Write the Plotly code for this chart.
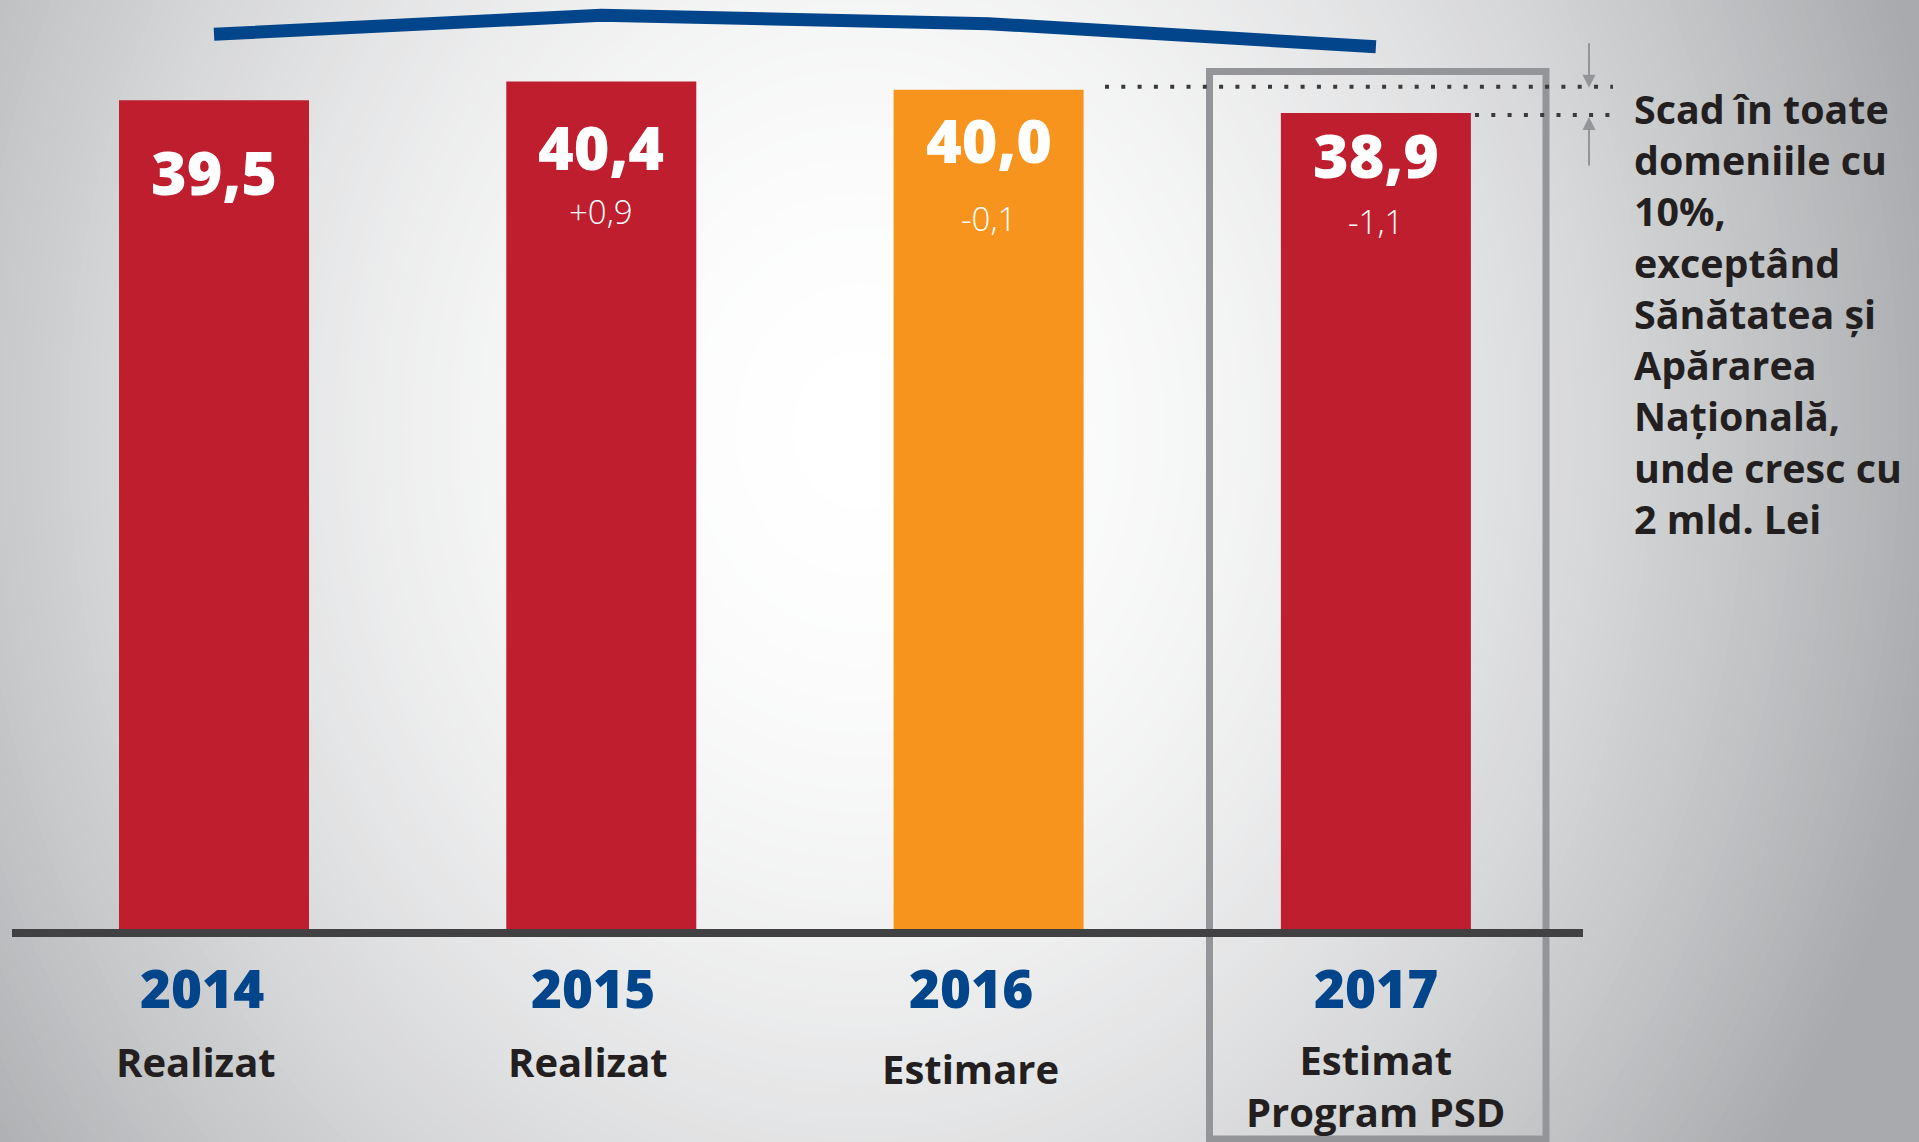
import plotly.graph_objects as go

# ---- data ----
years = ["2014", "2015", "2016", "2017"]
status = ["Realizat", "Realizat", "Estimare", "Estimat<br>Program PSD"]
values = [39.5, 40.4, 40.0, 38.9]
value_labels = ["39,5", "40,4", "40,0", "38,9"]
change_labels = ["", "+0,9", "-0,1", "-1,1"]
note_text = ("Scad în toate<br>domeniile cu<br>10%,<br>exceptând<br>"
             "Sănătatea și<br>Apărarea<br>Națională,<br>unde cresc cu<br>2 mld. Lei")

# ---- styling ----
RED = "#BE1E2D"
ORANGE = "#F7941D"
BLUE = "#02458B"
DARK = "#231F20"
GREY = "#939598"
bar_colors = [RED, RED, ORANGE, RED]

W, H = 1919, 1142
PLOT_L, PLOT_R = 12, 1583
PLOT_T, PLOT_B = 0, 933
ZERO_PX = 929
PX_PER_UNIT = 20.98
FIRST_CENTER = 214
STEP = 387.3
LINE_LIFT = 3.15  # trend line drawn above the bars


def px_x(p):
    return (p - PLOT_L) / (PLOT_R - PLOT_L)


def px_y(p):
    return (PLOT_B - p) / (PLOT_B - PLOT_T)


y_range = [-(PLOT_B - ZERO_PX) / PX_PER_UNIT, (ZERO_PX - PLOT_T) / PX_PER_UNIT]
x_range = [(PLOT_L - FIRST_CENTER) / STEP, (PLOT_R - FIRST_CENTER) / STEP]
idx = list(range(len(years)))

main_off = [71, 65, 50, 42]
sub_off = [0, 130, 129, 109]
year_dx = [-12, -8, -18, 0]
desc_dx = [-18, -13, -18, 0]
desc_y = [1061, 1061, 1068, 1085]

fig = go.Figure()

fig.add_trace(go.Bar(
    x=idx, y=values, width=190 / STEP,
    marker=dict(color=bar_colors, line=dict(width=0)),
    hovertext=years, hoverinfo="text+y",
))

fig.add_trace(go.Scatter(
    x=idx, y=values, yaxis="y2", mode="lines",
    line=dict(color=BLUE, width=13),
    hoverinfo="skip",
))

# ---- background radial gradient ----
shapes = []
cx, cy, rx, ry = 860, 430, 1100, 1300
edge = (168, 170, 173)
N = 150
for k in range(N):
    rho = 1.3 * (1 - k / N)
    f = min(1.0, rho ** 1.9)
    col = "rgb(%d,%d,%d)" % tuple(round(255 - f * (255 - e)) for e in edge)
    shapes.append(dict(
        type="circle", xref="paper", yref="paper", layer="below",
        x0=px_x(cx - rho * rx), x1=px_x(cx + rho * rx),
        y0=px_y(cy + rho * ry), y1=px_y(cy - rho * ry),
        fillcolor=col, line=dict(width=0),
    ))

# grey frame around 2017
shapes.append(dict(
    type="rect", xref="paper", yref="paper", layer="below",
    x0=px_x(1209.5), x1=px_x(1546), y0=px_y(1139), y1=px_y(71.5),
    line=dict(color=GREY, width=7), fillcolor="rgba(0,0,0,0)",
))

# baseline
shapes.append(dict(
    type="line", xref="paper", yref="paper", layer="above",
    x0=0, x1=1, y0=px_y(933), y1=px_y(933),
    line=dict(color="#414042", width=8),
))

# dotted reference lines
shapes.append(dict(
    type="line", xref="paper", yref="y", layer="above",
    x0=px_x(1105), x1=px_x(1613), y0=values[2] + 0.15, y1=values[2] + 0.15,
    line=dict(color="#3A3A3C", width=4, dash="4px,12.3px"),
))
shapes.append(dict(
    type="line", xref="paper", yref="y", layer="above",
    x0=px_x(1475), x1=px_x(1613), y0=values[3] - 0.1, y1=values[3] - 0.1,
    line=dict(color="#3A3A3C", width=4, dash="4px,12.3px"),
))

annotations = []
for i in idx:
    annotations.append(dict(
        x=i, y=values[i], xref="x", yref="y", text=value_labels[i],
        showarrow=False, yanchor="middle", yshift=-main_off[i],
        font=dict(family="Open Sans", size=61, color="white", weight=800),
    ))
    if change_labels[i]:
        annotations.append(dict(
            x=i, y=values[i], xref="x", yref="y", text=change_labels[i],
            showarrow=False, yanchor="middle", yshift=-sub_off[i],
            font=dict(family="Open Sans", size=33, color="white", weight=300),
        ))
    annotations.append(dict(
        x=i, y=px_y(988), xref="x", yref="paper", text=years[i],
        showarrow=False, yanchor="middle", xshift=year_dx[i],
        font=dict(family="Open Sans", size=53, color=BLUE, weight=800),
    ))
    annotations.append(dict(
        x=i, y=px_y(desc_y[i]), xref="x", yref="paper", text=status[i],
        showarrow=False, yanchor="middle", xshift=desc_dx[i],
        font=dict(family="Open Sans", size=40, color=DARK, weight=700),
    ))

annotations.append(dict(
    x=px_x(1632), y=px_y(80), xref="paper", yref="paper", text=note_text,
    showarrow=False, xanchor="left", yanchor="top", align="left",
    font=dict(family="Open Sans", size=39.4, color=DARK, weight=700),
))

# arrows pointing at the dotted lines
annotations.append(dict(
    x=px_x(1589), y=values[2] + 0.1, xref="paper", yref="y", text="",
    showarrow=True, ax=0, ay=-46, arrowhead=2, arrowsize=1.3,
    arrowwidth=2, arrowcolor=GREY, standoff=0,
))
annotations.append(dict(
    x=px_x(1589), y=values[3] - 0.2, xref="paper", yref="y", text="",
    showarrow=True, ax=0, ay=50, arrowhead=2, arrowsize=1.3,
    arrowwidth=2, arrowcolor=GREY, standoff=0,
))

fig.update_layout(
    width=W, height=H,
    margin=dict(l=PLOT_L, r=W - PLOT_R, t=PLOT_T, b=H - PLOT_B, pad=0),
    paper_bgcolor="rgb(%d,%d,%d)" % edge,
    plot_bgcolor="rgba(0,0,0,0)",
    showlegend=False,
    xaxis=dict(range=x_range, visible=False, fixedrange=True),
    yaxis=dict(range=y_range, visible=False, fixedrange=True),
    yaxis2=dict(range=[y_range[0] - LINE_LIFT, y_range[1] - LINE_LIFT],
                overlaying="y", visible=False, fixedrange=True),
    shapes=shapes,
    annotations=annotations,
)

fig.write_html("out.html", config={"displayModeBar": False},
               post_script="document.body.style.margin='0';")
